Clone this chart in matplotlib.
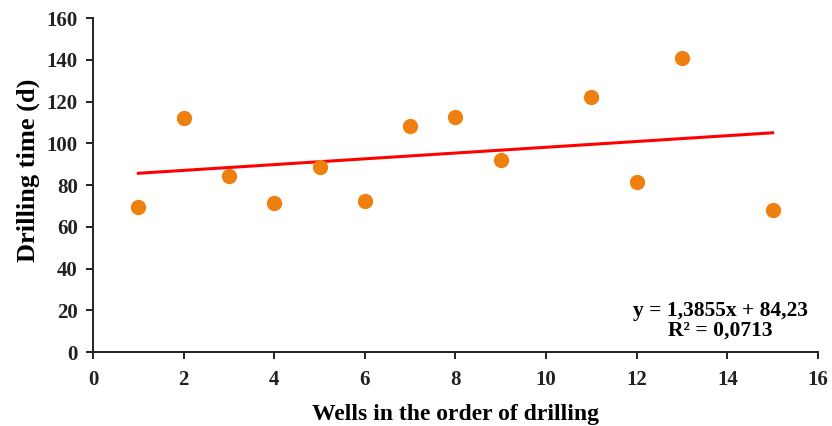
import numpy as np
import matplotlib.pyplot as plt

wells = [1, 2, 3, 4, 5, 6, 7, 8, 9, 11, 12, 13, 15]
days = [69.6, 112.0, 84.3, 71.5, 88.5, 72.3, 108.3, 112.4, 92.0, 122.3, 81.6, 141.0, 68.0]

slope = 1.3855
intercept = 84.23

plt.rcParams['font.family'] = ['Liberation Serif', 'DejaVu Serif']
plt.rcParams['font.weight'] = 'bold'

fig = plt.figure(figsize=(8.32, 4.26), dpi=100)
ax = fig.add_axes([0.1118, 0.1737, 0.8713, 0.784])

xs = np.array([min(wells), max(wells)])
ax.plot(xs, slope * xs + intercept, color='#FF0000', linewidth=2.2, zorder=2)
ax.scatter(wells, days, s=100, color='#EE8010', zorder=3)

ax.set_xlim(0, 16)
ax.set_ylim(0, 160)
ax.set_xticks(range(0, 17, 2))
ax.set_yticks(range(0, 161, 20))

for side in ['top', 'right']:
    ax.spines[side].set_visible(False)
for side in ['left', 'bottom']:
    ax.spines[side].set_linewidth(1.4)
    ax.spines[side].set_color('#222222')
ax.tick_params(direction='out', length=5, width=1.4, labelsize=15, colors='#222222')
ax.tick_params(axis='x', pad=8)
ax.tick_params(axis='y', pad=6)
for lbl in ax.get_xticklabels() + ax.get_yticklabels():
    lbl.set_fontweight('bold')

ax.set_xlabel("Wells in the order of drilling", fontsize=17, fontweight='bold', labelpad=10)
ax.set_ylabel("Drilling time (d)", fontsize=19, fontweight='bold', labelpad=5)
ax.yaxis.label.set_y(0.545)

ax.text(0.865, 0.093, "y = 1,3855x + 84,23\nR² = 0,0713", transform=ax.transAxes,
        ha='center', va='center', fontsize=15.5, fontweight='bold', linespacing=1.0)

plt.savefig("out.png", dpi=100)
